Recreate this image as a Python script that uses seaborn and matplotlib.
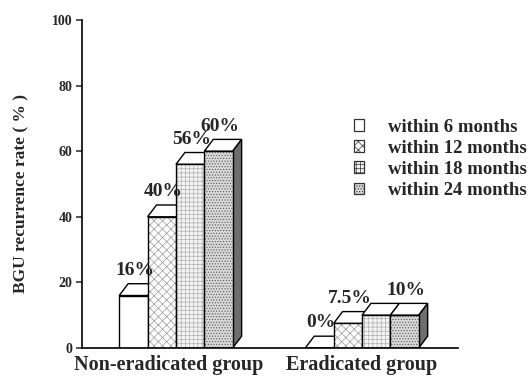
import numpy as np
import pandas as pd
import matplotlib
matplotlib.use("Agg")
import matplotlib.pyplot as plt
from matplotlib.patches import Polygon, Patch, Rectangle
from matplotlib.transforms import ScaledTranslation
import seaborn as sns

# ---- data ----
groups = ["Non-eradicated group", "Eradicated group"]
periods = ["within 6 months", "within 12 months", "within 18 months", "within 24 months"]
non_eradicated = [16, 40, 56, 60]
eradicated = [0, 7.5, 10, 10]
# which bars carry a value label (per group, per period)
show_label = [[True, True, True, True], [True, True, False, True]]

df = pd.DataFrame({
    "group": np.repeat(groups, len(periods)),
    "period": periods * len(groups),
    "rate": non_eradicated + eradicated,
})

sns.set_style("white")
plt.rcParams["font.family"] = ["Liberation Serif", "DejaVu Serif"]
plt.rcParams["font.weight"] = "bold"
plt.rcParams["hatch.linewidth"] = 0.5

W, H = 531, 377
fig = plt.figure(figsize=(W / 100, H / 100), dpi=100)
ax = fig.add_axes([82 / W, 29 / H, 376 / W, 328 / H])

styles = [
    dict(fc="white", hatch=None, hc="black"),
    dict(fc="white", hatch="xxxx", hc="#9a9a9a"),
    dict(fc="#f4f4f4", hatch="++++", hc="#b0b0b0"),
    dict(fc="#d8d8d8", hatch="......", hc="#5a5a5a"),
]

sns.barplot(data=df, x="group", y="rate", hue="period", order=groups,
            hue_order=periods, width=0.61, gap=0, legend=False, ax=ax,
            saturation=1, linewidth=0)

ax.set_xlim(-0.505, 1.516)
ax.set_ylim(0, 100)

# 3-D depth of the boxes in data units
dx, dy = 0.048, 3.6

for k, cont in enumerate(ax.containers):
    st = styles[k]
    for g, bar in enumerate(cont.patches):
        x0 = bar.get_x()
        w = bar.get_width()
        h = bar.get_height()
        z = 2 + 0.1 * k
        bar.set_facecolor(st["fc"])
        bar.set_edgecolor(st["hc"])
        bar.set_linewidth(0)
        if st["hatch"]:
            bar.set_hatch(st["hatch"])
        bar.set_zorder(z)
        # outline of front face
        ax.add_patch(Rectangle((x0, 0), w, h, fill=False, ec="black",
                               lw=1.0, zorder=z + 0.01))
        # top face
        top = Polygon([(x0, h), (x0 + w, h), (x0 + w + dx, h + dy),
                       (x0 + dx, h + dy)], closed=True, fc="white",
                      ec="black", lw=1.0, zorder=z - 0.05, joinstyle="miter")
        ax.add_patch(top)
        # right side face only for the last box of each group
        if k == len(periods) - 1:
            side = Polygon([(x0 + w, 0), (x0 + w + dx, dy),
                            (x0 + w + dx, h + dy), (x0 + w, h)], closed=True,
                           fc="#6e6e6e", ec="black", lw=1.0, zorder=z - 0.05)
            ax.add_patch(side)
        if show_label[g][k]:
            ax.annotate(f"{h:g}%", (x0 + w / 2 + dx / 2, h + dy),
                        xytext=(-2, 9.5), textcoords="offset points",
                        ha="center", va="center", fontsize=14,
                        fontweight="bold", zorder=6)

# axes styling
for s in ["top", "right"]:
    ax.spines[s].set_visible(False)
for s in ["left", "bottom"]:
    ax.spines[s].set_color("black")
    ax.spines[s].set_linewidth(1.2)

ax.set_yticks([0, 20, 40, 60, 80, 100])
ax.tick_params(axis="y", direction="out", length=4, width=1.1, pad=3,
               labelsize=10, left=True)
ax.tick_params(axis="x", length=0, pad=5, labelsize=14.5)
for t in ax.get_yticklabels() + ax.get_xticklabels():
    t.set_fontweight("bold")
# nudge the first group name a little to the left
first = ax.get_xticklabels()[0]
first.set_transform(first.get_transform() +
                    ScaledTranslation(-7 / 100, 0, fig.dpi_scale_trans))
ax.set_xlabel("")
ax.set_ylabel("BGU recurrence rate ( % )", fontsize=12.5, fontweight="bold")
ax.yaxis.set_label_coords(-0.14, 0.47)

# legend
handles = [Patch(facecolor=st["fc"], edgecolor="#333333", hatch=st["hatch"],
                 linewidth=0.9) for st in styles]
fig.legend(handles, periods, loc="upper left",
           bbox_to_anchor=(346 / W, 1 - 111 / H), frameon=False,
           handlelength=0.55, handleheight=0.55,
           handletextpad=1.3, labelspacing=0.22, borderaxespad=0,
           prop=dict(weight="bold", size=13.5))

fig.savefig("out.png", dpi=100, facecolor="white")
